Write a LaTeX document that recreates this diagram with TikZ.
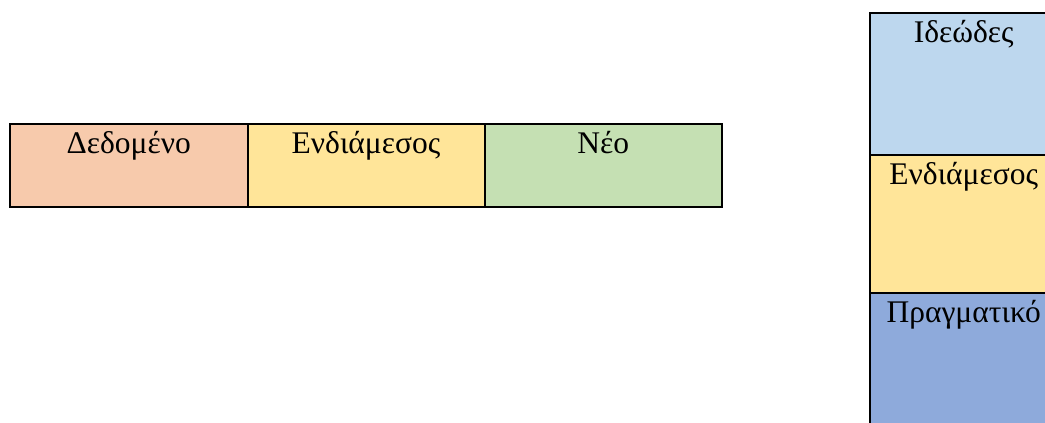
\documentclass[tikz,border=0pt]{standalone}
\usepackage{fontspec}
\setmainfont{Liberation Serif}
\definecolor{cellpeach}{HTML}{F7CAAC}
\definecolor{cellyellow}{HTML}{FFE599}
\definecolor{cellgreen}{HTML}{C5E0B3}
\definecolor{cellsky}{HTML}{BDD7EE}
\definecolor{cellblue}{HTML}{8EAADB}
\tikzset{
  cell/.style={draw=black, line width=2pt, inner sep=0pt, anchor=north west},
  celltext/.style={anchor=base, inner sep=0pt, font=\fontsize{31.5}{36}\selectfont}
}
\begin{document}
\begin{tikzpicture}[x=1pt, y=-1pt]
  \useasboundingbox (0,0) rectangle (1045,423);
  \clip (0,0) rectangle (1045,423);
  % horizontal row of three cells
  \node[cell, fill=cellpeach, minimum width=237.5pt, minimum height=83pt] (given) at (9,123) {};
  \node[cell, fill=cellyellow, minimum width=237pt, minimum height=83pt] (inter) at (246.5,123) {};
  \node[cell, fill=cellgreen, minimum width=237.5pt, minimum height=83pt] (new) at (483.5,123) {};
  \node[celltext] at ([yshift=-30pt]given.north) {Δεδομένο};
  \node[celltext] at ([yshift=-30pt]inter.north) {Ενδιάμεσος};
  \node[celltext] at ([yshift=-30pt]new.north) {Νέο};
  % vertical column of three cells
  \node[cell, fill=cellsky, minimum width=188.5pt, minimum height=142pt] (ideal) at (868.5,12) {};
  \node[cell, fill=cellyellow, minimum width=188.5pt, minimum height=138pt] (mid) at (868.5,154) {};
  \node[cell, fill=cellblue, minimum width=188.5pt, minimum height=150pt] (real) at (868.5,292) {};
  \node[celltext] at ([yshift=-30pt]ideal.north) {Ιδεώδες};
  \node[celltext] at ([yshift=-30pt]mid.north) {Ενδιάμεσος};
  \node[celltext] at ([yshift=-30pt]real.north) {Πραγματικό};
\end{tikzpicture}
\end{document}
